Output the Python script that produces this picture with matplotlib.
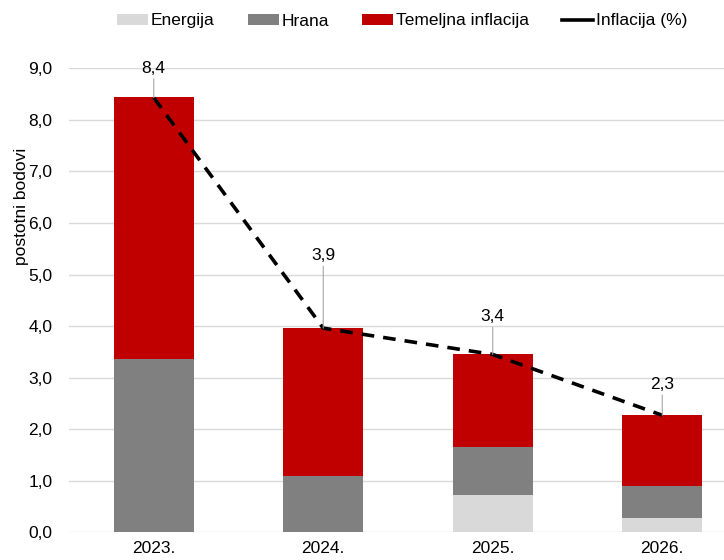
import matplotlib
matplotlib.use("Agg")
import matplotlib.pyplot as plt
from matplotlib.ticker import FuncFormatter, MultipleLocator

plt.rcParams["font.family"] = ["Liberation Sans", "DejaVu Sans"]

# podaci
years = ["2023.", "2024.", "2025.", "2026."]
energija = [0.0, 0.0, 0.72, 0.27]
hrana = [3.36, 1.10, 0.93, 0.62]
temeljna = [5.09, 2.86, 1.80, 1.38]
inflacija = [8.43, 3.96, 3.45, 2.27]
inflacija_labels = ["8,4", "3,9", "3,4", "2,3"]
label_offsets = [21, 52, 27, 22]  # points above the line point

c_energija = "#d9d9d9"
c_hrana = "#808080"
c_temeljna = "#c00000"


def main():
    fig = plt.figure(figsize=(7.24, 5.6), dpi=100)
    ax = fig.add_axes([69 / 724, 1 - 532.3 / 560, (747 - 69) / 724, 464 / 560])

    x = list(range(len(years)))
    w = 0.47
    bottom2 = [e + h for e, h in zip(energija, hrana)]

    b1 = ax.bar(x, energija, w, color=c_energija, zorder=2)
    b2 = ax.bar(x, hrana, w, bottom=energija, color=c_hrana, zorder=2)
    b3 = ax.bar(x, temeljna, w, bottom=bottom2, color=c_temeljna, zorder=2)

    ax.plot(x, inflacija, color="black", lw=2.6, linestyle=(0, (3.5, 2.5)),
            zorder=3)
    # legend handle is solid
    l_handle, = ax.plot([], [], color="black", lw=2.6)

    for xi, yi, lab, off in zip(x, inflacija, inflacija_labels, label_offsets):
        ax.annotate(lab, xy=(xi, yi), xytext=(0, off), textcoords="offset points",
                    ha="center", va="center", fontsize=12.5,
                    arrowprops=dict(arrowstyle="-", color="#a6a6a6", lw=0.8,
                                    shrinkA=0, shrinkB=0),
                    zorder=4)

    ax.set_xlim(-0.5, 3.5)
    ax.set_ylim(0, 9)
    ax.yaxis.set_major_locator(MultipleLocator(1))
    ax.yaxis.set_major_formatter(FuncFormatter(lambda v, p: f"{v:.1f}".replace(".", ",")))
    ax.set_xticks(x)
    ax.set_xticklabels(years)
    ax.tick_params(axis="both", length=0, labelsize=12.5)
    ax.tick_params(axis="y", pad=12)
    ax.tick_params(axis="x", pad=6)
    ax.grid(axis="y", color="#d9d9d9", lw=1, zorder=0)
    ax.set_axisbelow(True)
    for s in ax.spines.values():
        s.set_visible(False)

    fig.text(22 / 724, 1 - 206 / 560, "postotni bodovi", rotation=90,
             ha="center", va="center", fontsize=12.5)

    fig.legend([b1, b2, b3, l_handle],
               ["Energija", "Hrana", "Temeljna inflacija", "Inflacija (%)"],
               loc="center", bbox_to_anchor=(402 / 724, 1 - 21 / 560),
               ncol=4, frameon=False, fontsize=12.5, handlelength=1.8,
               handletextpad=0.15, columnspacing=1.9, handleheight=0.6)

    fig.savefig("out.png", dpi=100)


if __name__ == "__main__":
    main()
